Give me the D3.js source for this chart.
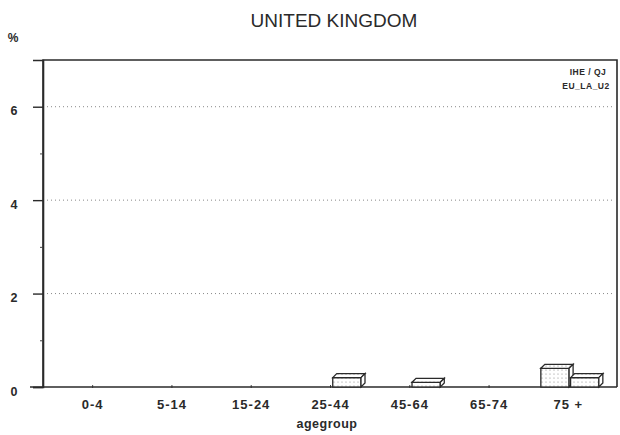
<!DOCTYPE html>
<html>
<head>
<meta charset="utf-8">
<script src="https://cdn.jsdelivr.net/npm/d3@7"></script>
<style>
  html, body { margin: 0; padding: 0; background: #fff; }
  svg { display: block; }
  text { font-family: "Liberation Sans", Arial, sans-serif; fill: #2a2a2a; }
</style>
</head>
<body>
<svg id="chart" width="620" height="435"></svg>
<script>
// Age groups on the x axis
const ageGroups = ["0-4", "5-14", "15-24", "25-44", "45-64", "65-74", "75+"];
const ageLabels = ["0-4", "5-14", "15-24", "25-44", "45-64", "65-74", "75 +"];
// Two series per age group (left and right bar), in %
const seriesLeft  = [0, 0, 0, 0,   0,   0, 0.4];
const seriesRight = [0, 0, 0, 0.2, 0.1, 0, 0.2];
// y axis
const yMajorTicks = [0, 2, 4, 6];
const yMinorTicks = [1, 3, 5];
const gridValues = [2, 4, 6];

const svg = d3.select("#chart");
const plotLeft = 43, plotRight = 617, plotTop = 60, plotBottom = 387;
const ink = "#2a2a2a";

const x = d3.scalePoint().domain(ageGroups).range([plotLeft, plotRight]).padding(0.62);
const sub = d3.scaleBand().domain(["L", "R"]).range([-27, 31]).paddingInner(0.05);
const y = d3.scaleLinear().domain([0, 7]).range([plotBottom, plotTop]);

// dotted fill pattern for bar faces
const defs = svg.append("defs");
const pat = defs.append("pattern").attr("id", "dots")
  .attr("width", 4).attr("height", 4).attr("patternUnits", "userSpaceOnUse");
pat.append("rect").attr("width", 4).attr("height", 4).attr("fill", "#fff");
pat.append("circle").attr("cx", 2).attr("cy", 2).attr("r", 0.6).attr("fill", "#888");

// title
svg.append("text").attr("x", 334).attr("y", 27).attr("text-anchor", "middle")
  .attr("font-size", 19).attr("fill", "#3a3a3a").text("UNITED KINGDOM");

// unit label
svg.append("text").attr("x", 13).attr("y", 42).attr("text-anchor", "middle")
  .attr("font-size", 12).attr("font-weight", "bold").text("%");

// grid lines
svg.append("g").selectAll("line").data(gridValues).join("line")
  .attr("x1", plotLeft + 4).attr("x2", plotRight - 2)
  .attr("y1", d => y(d)).attr("y2", d => y(d))
  .attr("stroke", "#888").attr("stroke-width", 1)
  .attr("stroke-dasharray", "1,3");

// frame (top and right)
svg.append("path")
  .attr("d", `M${plotLeft},${plotBottom} V${plotTop} H${plotRight} V${plotBottom}`)
  .attr("fill", "none").attr("stroke", ink).attr("stroke-width", 1.6);

// y axis
const yAxis = d3.axisLeft(y).tickValues(yMajorTicks).tickSize(10).tickPadding(16)
  .tickFormat(d3.format("d"));
const gy = svg.append("g").attr("transform", `translate(${plotLeft},0)`).call(yAxis);
gy.select(".domain").attr("stroke", ink).attr("stroke-width", 1.6);
gy.selectAll(".tick line").attr("stroke", ink).attr("stroke-width", 1.4);
gy.selectAll(".tick text").attr("font-size", 12.5).attr("font-weight", "bold")
  .attr("text-anchor", "middle").attr("x", -29).attr("y", 8).attr("dy", 0)
  .style("font-family", "Liberation Sans, Arial, sans-serif").attr("fill", ink);
// minor ticks
const gyMinor = svg.append("g").attr("transform", `translate(${plotLeft},0)`)
  .call(d3.axisLeft(y).tickValues(yMinorTicks).tickSize(3).tickFormat(""));
gyMinor.select(".domain").remove();
gyMinor.selectAll(".tick line").attr("stroke", "#444");

// x axis
const xAxis = d3.axisBottom(x).tickSize(3).tickPadding(8)
  .tickFormat((d, i) => ageLabels[i]);
const gx = svg.append("g").attr("transform", `translate(0,${plotBottom})`).call(xAxis);
gx.select(".domain").remove();
gx.append("line").attr("x1", 30).attr("x2", plotRight).attr("stroke", ink).attr("stroke-width", 1.6);
gx.selectAll(".tick line").attr("stroke", "#444").attr("y1", -2).attr("y2", 1);
gx.selectAll(".tick text").attr("font-size", 13).attr("font-weight", "bold")
  .attr("letter-spacing", 1).attr("y", 22).attr("dy", 0)
  .style("font-family", "Liberation Sans, Arial, sans-serif").attr("fill", ink);

// axis title
svg.append("text").attr("x", x("25-44") - 3).attr("y", 428).attr("text-anchor", "middle")
  .attr("font-size", 12.5).attr("font-weight", "bold").attr("letter-spacing", 0.5).text("agegroup");

// source annotation
svg.append("text").attr("x", 588).attr("y", 75).attr("text-anchor", "middle")
  .attr("font-size", 8.5).attr("font-weight", "bold").attr("letter-spacing", 0.5).text("IHE / QJ");
svg.append("text").attr("x", 586).attr("y", 89).attr("text-anchor", "middle")
  .attr("font-size", 8.5).attr("font-weight", "bold").attr("letter-spacing", 0.5).text("EU_LA_U2");

// 3-D bars
const bars = [];
ageGroups.forEach((g, i) => {
  bars.push({ g, s: "L", v: seriesLeft[i] });
  bars.push({ g, s: "R", v: seriesRight[i] });
});
const depth = 4;
const gb = svg.append("g");
bars.filter(d => d.v > 0).forEach(d => {
  const x0 = x(d.g) + sub(d.s), w = sub.bandwidth();
  const y0 = y(d.v), h = y(0) - y0;
  const b = gb.append("g");
  // front face
  b.append("rect").attr("x", x0).attr("y", y0).attr("width", w).attr("height", h)
    .attr("fill", "url(#dots)").attr("stroke", ink).attr("stroke-width", 1.3);
  // top face
  b.append("path")
    .attr("d", `M${x0},${y0} L${x0 + depth},${y0 - depth} H${x0 + w + depth} L${x0 + w},${y0} Z`)
    .attr("fill", "url(#dots)").attr("stroke", ink).attr("stroke-width", 1.3);
  // side face
  b.append("path")
    .attr("d", `M${x0 + w},${y0} L${x0 + w + depth},${y0 - depth} V${y(0) - depth} L${x0 + w},${y(0)} Z`)
    .attr("fill", "#fff").attr("stroke", ink).attr("stroke-width", 1.3);
});
</script>
</body>
</html>
